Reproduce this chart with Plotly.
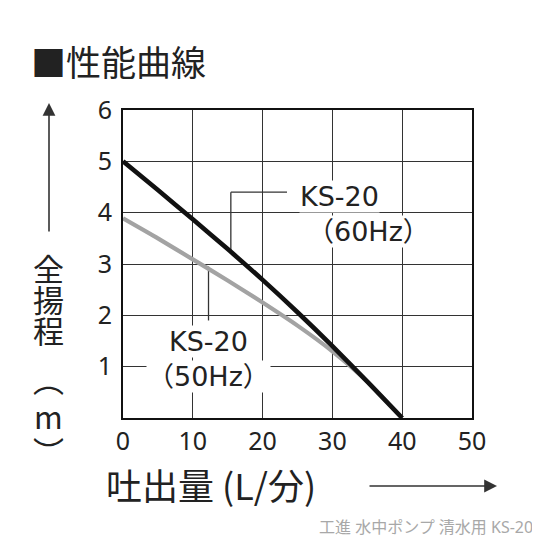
import plotly.graph_objects as go

########## DATA ##########
flow = [0, 5, 10, 15, 20, 25, 30, 35, 40]          # 吐出量 (L/分)
head_60hz = [5.0, 4.44, 3.87, 3.29, 2.69, 2.06, 1.40, 0.71, 0.0]
head_50hz = [3.89, 3.50, 3.09, 2.68, 2.25, 1.80, 1.30, 0.71, 0.0]
x_ticks = [0, 10, 20, 30, 40, 50]
y_ticks = [1, 2, 3, 4, 5, 6]

CJK = "Noto Sans CJK JP"
LATIN = "Noto Sans, Noto Sans CJK JP"
LABEL = "DejaVu Sans, Noto Sans CJK JP"
INK = "#222222"

# plot area in page pixels (page is 540x540, browser body adds an 8px margin)
OFF = 8
L, R, T, B = 123, 472, 110, 418
W = H = 540 - OFF


def px(xp, yp):
    # page pixel -> paper coords
    return (xp - L) / (R - L), (B - yp) / (B - T)


fig = go.Figure()
fig.add_trace(go.Scatter(x=flow, y=head_50hz, mode="lines",
                         line=dict(color="#a3a3a3", width=4.2, shape="spline", smoothing=0.6),
                         hoverinfo="skip"))
fig.add_trace(go.Scatter(x=flow, y=head_60hz, mode="lines",
                         line=dict(color="#111111", width=4.6, shape="spline", smoothing=0.6),
                         hoverinfo="skip"))

########## LEADER LINES ##########
fig.add_shape(type="line", x0=15.45, y0=4.40, x1=23.5, y1=4.40,
              line=dict(color="#333", width=1.3), layer="below")
fig.add_shape(type="line", x0=15.45, y0=4.40, x1=15.45, y1=3.2,
              line=dict(color="#333", width=1.3), layer="below")
fig.add_shape(type="line", x0=12.25, y0=2.95, x1=12.25, y1=1.9,
              line=dict(color="#333", width=1.3), layer="below")

annos = []
# curve labels
for txt, xd, yd in [("KS-20", 31.0, 4.32), ("（60Hz）", 35.1, 3.64),
                    ("KS-20", 12.24, 1.49), ("（50Hz）", 12.24, 0.80)]:
    annos.append(dict(x=xd, y=yd, xref="x", yref="y", text=txt, showarrow=False,
                      font=dict(family=LABEL, size=27, color=INK),
                      bgcolor="white", borderpad=0))

# title
tx, ty = px(29, 61)
annos.append(dict(x=tx, y=ty, xref="paper", yref="paper", text="■性能曲線",
                  showarrow=False, xanchor="left", yanchor="middle",
                  font=dict(family=CJK, size=35, color=INK)))

# vertical y-axis title
for ch, yp in [("全", 267), ("揚", 298), ("程", 329), ("︵", 378), ("m", 415), ("︶", 450)]:
    cx, cy = px(48, yp)
    annos.append(dict(x=cx, y=cy, xref="paper", yref="paper", text=ch, showarrow=False,
                      xanchor="center", yanchor="middle",
                      font=dict(family=CJK, size=31, color=INK)))

# x-axis title
cx, cy = px(104, 484)
annos.append(dict(x=cx, y=cy, xref="paper", yref="paper", text="吐出量 (L/分)",
                  showarrow=False, xanchor="left", yanchor="middle",
                  font=dict(family=CJK, size=36, color=INK)))

# arrows
ax_, ay_ = px(49, 103)
annos.append(dict(x=ax_, y=ay_, xref="paper", yref="paper", text="", showarrow=True,
                  ax=0, ay=130, arrowhead=2, arrowsize=1.6, arrowwidth=1.6,
                  arrowcolor="#333"))
ax_, ay_ = px(497, 486)
annos.append(dict(x=ax_, y=ay_, xref="paper", yref="paper", text="", showarrow=True,
                  ax=-129, ay=0, arrowhead=2, arrowsize=1.6, arrowwidth=1.6,
                  arrowcolor="#333"))

# footer
cx, cy = px(535, 527)
annos.append(dict(x=cx, y=cy, xref="paper", yref="paper",
                  text="工進 水中ポンプ 清水用 KS-20", showarrow=False,
                  xanchor="right", yanchor="middle",
                  font=dict(family=LATIN, size=16, color="#a8a8a8")))

fig.update_layout(
    width=W, height=H,
    margin=dict(l=L - OFF, r=540 - R, t=T - OFF, b=540 - B, pad=0),
    paper_bgcolor="white", plot_bgcolor="white",
    showlegend=False,
    annotations=annos,
    font=dict(family=LATIN, color=INK),
)
fig.update_xaxes(range=[0, 50], tickvals=x_ticks, showgrid=True, gridcolor="#333",
                 gridwidth=1.3, zeroline=False, showline=True, mirror=True,
                 linecolor="#111", linewidth=2, ticks="",
                 tickfont=dict(family=LATIN, size=25, color=INK), ticklabelstandoff=0)
fig.update_yaxes(range=[0, 6], tickvals=y_ticks, showgrid=True, gridcolor="#333",
                 gridwidth=1.3, zeroline=False, showline=True, mirror=True,
                 linecolor="#111", linewidth=2, ticks="",
                 tickfont=dict(family=LATIN, size=25, color=INK), ticklabelstandoff=4)

fig.write_html("out.html")
